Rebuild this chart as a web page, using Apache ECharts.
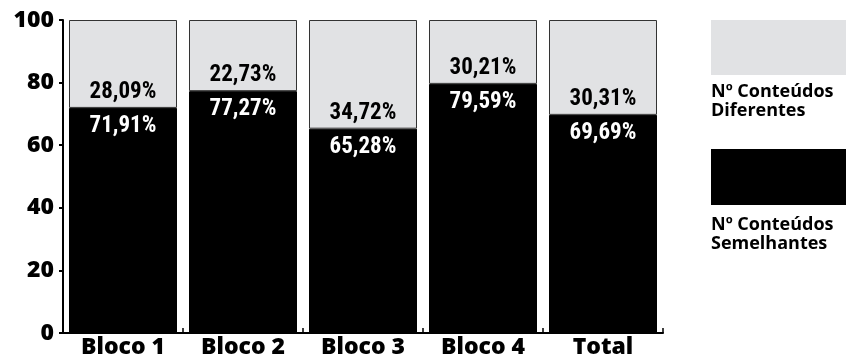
<!DOCTYPE html>
<html><head><meta charset="utf-8">
<script src="https://cdn.jsdelivr.net/npm/echarts@6/dist/echarts.min.js"></script>
<style>html,body{margin:0;padding:0;background:#fff}#c{width:846px;height:359px}</style>
</head><body><div id="c"></div>
<script>
const categories = ['Bloco 1','Bloco 2','Bloco 3','Bloco 4','Total'];
const semelhantes = [71.91, 77.27, 65.28, 79.59, 69.69];
const diferentes = [28.09, 22.73, 34.72, 20.41, 30.31];
const diferentesLabels = [28.09, 22.73, 34.72, 30.21, 30.31];
const yTicks = [0, 20, 40, 60, 80, 100];
const seriesNames = ['Nº Conteúdos\nSemelhantes', 'Nº Conteúdos\nDiferentes'];

const fmt = v => v.toFixed(2).replace('.', ',') + '%';
const labelFont = "'Roboto Condensed', Roboto, sans-serif";
const mainFont = "'Open Sans', 'Noto Sans', sans-serif";

const chart = echarts.init(document.getElementById('c'));
chart.setOption({
  animation: false,
  grid: {left: 63, right: 183, top: 20, bottom: 26, containLabel: false},
  xAxis: {
    type: 'category', data: categories,
    axisLine: {lineStyle: {color: '#000', width: 2}},
    axisTick: {show: true, inside: true, length: 5, lineStyle: {color: '#000', width: 1.5}},
    axisLabel: {color: '#000', fontFamily: mainFont, fontWeight: 800, fontSize: 23, margin: 3}
  },
  yAxis: {
    type: 'value', min: yTicks[0], max: yTicks[yTicks.length - 1], interval: 20,
    splitLine: {show: false},
    axisLine: {show: true, lineStyle: {color: '#000', width: 2}},
    axisTick: {show: true, length: 4, lineStyle: {color: '#000', width: 2}},
    axisLabel: {color: '#000', fontFamily: mainFont, fontWeight: 800, fontSize: 23, margin: 9}
  },
  series: [
    {
      name: seriesNames[0], type: 'bar', stack: 's', data: semelhantes,
      barCategoryGap: '10%',
      itemStyle: {color: '#000', borderColor: '#000', borderWidth: 1},
      label: {show: true, position: 'insideTop', distance: 7, color: '#fff',
        fontFamily: labelFont, fontWeight: 'bold', fontSize: 23,
        formatter: p => fmt(p.value)}
    },
    {
      name: seriesNames[1], type: 'bar', stack: 's', data: diferentes,
      barCategoryGap: '10%',
      itemStyle: {color: '#e1e2e4', borderColor: '#333', borderWidth: 1},
      label: {show: true, position: 'insideBottom', distance: 4, color: '#000',
        fontFamily: labelFont, fontWeight: 'bold', fontSize: 23,
        formatter: p => fmt(diferentesLabels[p.dataIndex])}
    }
  ],
  graphic: [
    {type: 'rect', left: 711, top: 20, shape: {width: 135, height: 55}, style: {fill: '#e1e2e4'}},
    {type: 'text', left: 711, top: 82, style: {text: seriesNames[1], fill: '#000',
      font: "bold 18px 'Open Sans', sans-serif", lineHeight: 19}},
    {type: 'rect', left: 711, top: 149, shape: {width: 135, height: 56}, style: {fill: '#000'}},
    {type: 'text', left: 711, top: 215, style: {text: seriesNames[0], fill: '#000',
      font: "bold 18px 'Open Sans', sans-serif", lineHeight: 19}}
  ]
});
</script></body></html>
